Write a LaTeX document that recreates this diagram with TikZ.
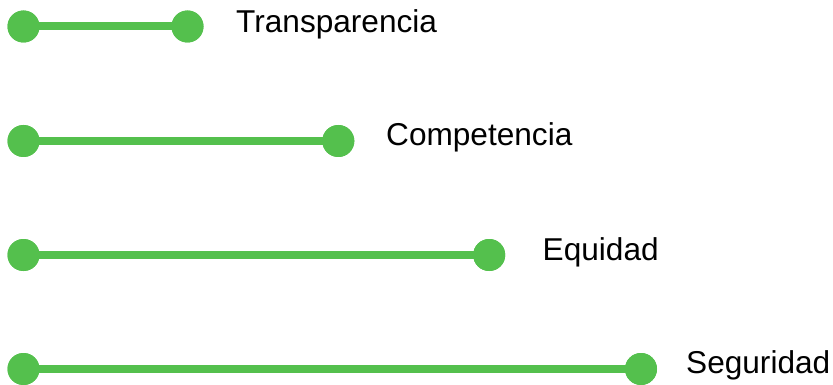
\documentclass[tikz,border=0pt]{standalone}
\usepackage{fontspec}
\setmainfont{Liberation Sans}
\definecolor{lgreen}{RGB}{84,192,77}
\begin{document}
\begin{tikzpicture}[x=1pt,y=-1pt,
  dot/.style={circle,fill=lgreen,minimum size=32pt,inner sep=0pt},
  bar/.style={draw=lgreen,line width=8pt},
  lbl/.style={anchor=base west,inner sep=0pt,font=\fontsize{31.6}{36}\selectfont}]
\useasboundingbox (0,0) rectangle (833,385);
\foreach \i/\y/\xr/\xt/\b/\t in {1/26.5/187.5/236/6.5/Transparencia,2/141/338.3/386/5/Competencia,3/255/489.2/542.5/5/Equidad,4/369/641/686/4/Seguridad}{
  \node[dot] (l\i) at (23.5,\y) {};
  \node[dot] (r\i) at (\xr,\y) {};
  \draw[bar] (l\i.center) -- (r\i.center);
  \node[dot] at (l\i) {};
  \node[dot] at (r\i) {};
  \node[lbl] (t\i) at (\xt,\y+\b) {\t};
}
\end{tikzpicture}
\end{document}
